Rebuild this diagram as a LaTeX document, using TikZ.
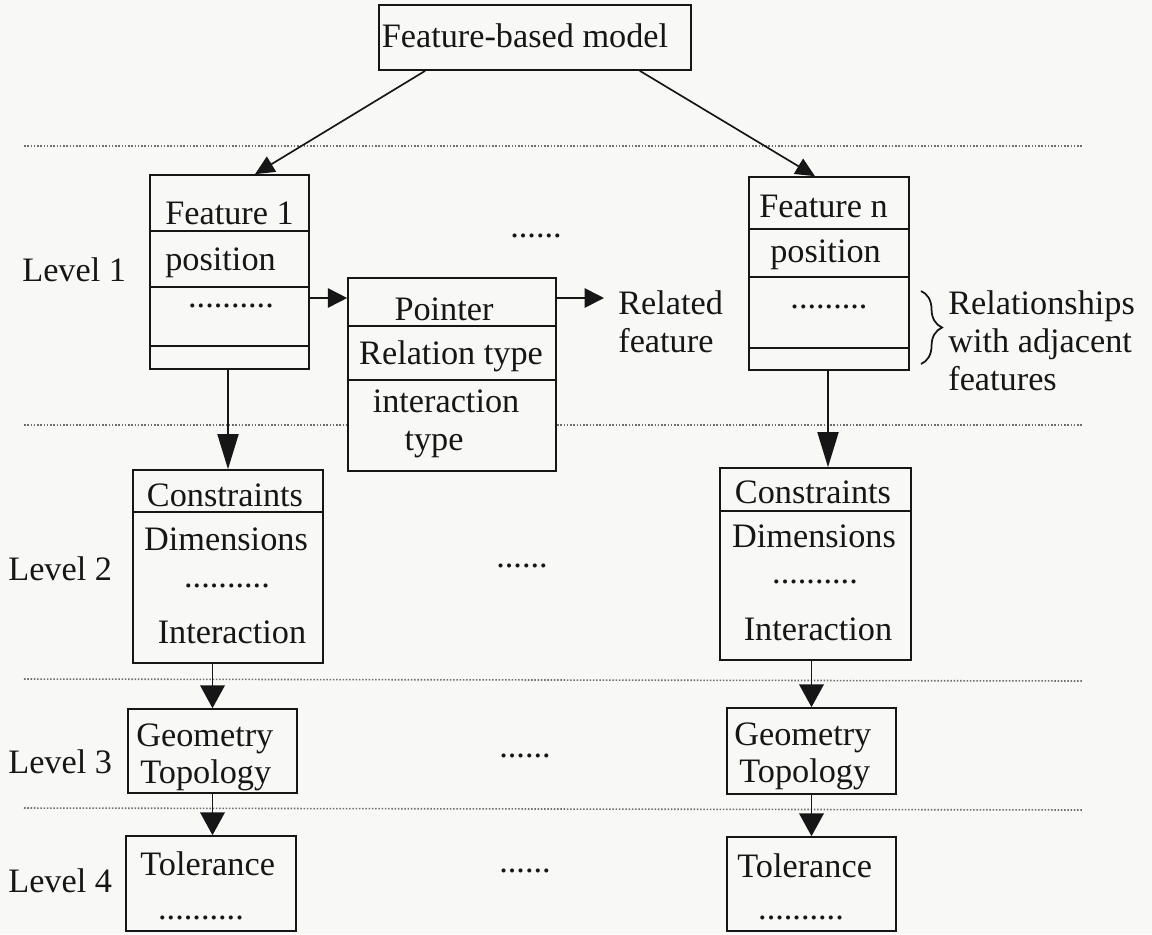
\documentclass[tikz,border=0pt]{standalone}
\usepackage{fontspec}
\setmainfont{Liberation Serif}
\usetikzlibrary{arrows.meta,decorations.pathreplacing}

\definecolor{paper}{RGB}{248,248,246}
\definecolor{ink}{RGB}{22,22,22}
\definecolor{sepgray}{RGB}{110,110,110}

\tikzset{
  txt/.style={font=\fontsize{19.5}{21.5}\selectfont, text=ink, inner sep=0pt},
  box/.style={draw=ink, line width=0.95pt, fill=paper, inner sep=0pt},
  divider/.style={draw=ink, line width=0.95pt},
  separator/.style={draw=sepgray, line width=0.9pt, dash pattern=on 0.9pt off 0.95pt},
  bigarr/.style={draw=ink, line width=0.95pt, -{Triangle[length=20pt,width=12pt]}},
  smallarr/.style={draw=ink, line width=0.95pt, -{Triangle[length=13pt,width=14pt]}},
  sidearr/.style={draw=ink, line width=0.95pt, -{Triangle[length=11pt,width=11pt]}},
  diagarr/.style={draw=ink, line width=0.95pt, -{Triangle[length=11pt,width=10pt]}},
  bracestyle/.style={draw=ink, line width=1pt, decorate, decoration={brace, amplitude=12pt}}
}

\begin{document}
\begin{tikzpicture}[x=0.02cm,y=-0.02cm]
\useasboundingbox (0,0) rectangle (1152,934);
\clip (0,0) rectangle (1152,934);
\fill[paper] (0,0) rectangle (1152,934);

% level separators
\draw[separator] (24,146) -- (1083,146);
\draw[separator] (24,425) -- (1083,425);
\draw[separator] (24,679) -- (1083,681);
\draw[separator] (24,808) -- (1083,810);

% root
\node[box, minimum width=6.24cm, minimum height=1.3cm] (root) at (535,37.5) {};
\node[txt, anchor=base] (roott) at (525,47) {Feature-based model};

% feature 1
\node[box, minimum width=3.18cm, minimum height=3.88cm] (f1) at (229.5,272) {};
\draw[divider] (f1.west |- 0,231) -- (f1.east |- 0,231);
\draw[divider] (f1.west |- 0,287) -- (f1.east |- 0,287);
\draw[divider] (f1.west |- 0,346) -- (f1.east |- 0,346);
\node[txt, anchor=base west] (f1a) at (165,224) {Feature 1};
\node[txt, anchor=base west] (f1b) at (165,270) {position};
\node[txt, anchor=base] (f1c) at (231,307) {..........};

% pointer record
\node[box, minimum width=4.16cm, minimum height=3.86cm] (ptr) at (452,374.5) {};
\draw[divider] (ptr.west |- 0,326) -- (ptr.east |- 0,326);
\draw[divider] (ptr.west |- 0,380) -- (ptr.east |- 0,380);
\node[txt, anchor=base] (ptra) at (444,320) {Pointer};
\node[txt, anchor=base] (ptrb) at (451,364) {Relation type};
\node[txt, anchor=base] (ptrc) at (446,412) {interaction};
\node[txt, anchor=base] (ptrd) at (434,450) {type};

% related feature (anchored on the baseline of its last line)
\node[txt, align=left, anchor=base west, inner xsep=0.28cm] (rel) at (604,352) {Related\\feature};

% feature n
\node[box, minimum width=3.2cm, minimum height=3.86cm] (fn) at (829,273.5) {};
\draw[divider] (fn.west |- 0,229) -- (fn.east |- 0,229);
\draw[divider] (fn.west |- 0,277) -- (fn.east |- 0,277);
\draw[divider] (fn.west |- 0,348) -- (fn.east |- 0,348);
\node[txt, anchor=base west] (fna) at (759,217) {Feature n};
\node[txt, anchor=base west] (fnb) at (770,262) {position};
\node[txt, anchor=base] (fnc) at (829,308) {.........};

% adjacency brace
\coordinate (bt) at (921,291);
\coordinate (bb) at (921,364);
\draw[bracestyle] (bt) -- (bb);
\node[txt, align=left, anchor=base west] (adj) at (948,390) {Relationships\\with adjacent\\features};

% level 2
\node[box, minimum width=3.8cm, minimum height=3.86cm] (c1) at (228,566.5) {};
\draw[divider] (c1.west |- 0,512) -- (c1.east |- 0,512);
\node[txt, anchor=base] (c1a) at (225,506) {Constraints};
\node[txt, anchor=base] (c1b) at (226,550) {Dimensions};
\node[txt, anchor=base] (c1c) at (227,587) {..........};
\node[txt, anchor=base] (c1d) at (232,643) {Interaction};

\node[box, minimum width=3.82cm, minimum height=3.84cm] (cn) at (815.5,564) {};
\draw[divider] (cn.west |- 0,511) -- (cn.east |- 0,511);
\node[txt, anchor=base] (cna) at (813,503) {Constraints};
\node[txt, anchor=base] (cnb) at (814,547) {Dimensions};
\node[txt, anchor=base] (cnc) at (815,583) {..........};
\node[txt, anchor=base] (cnd) at (818,640) {Interaction};

% level 3
\node[box, minimum width=3.38cm, minimum height=1.68cm] (g1) at (212.5,751) {};
\node[txt, anchor=base west] (g1a) at (136,746) {Geometry};
\node[txt, anchor=base west] (g1b) at (140,783) {Topology};

\node[box, minimum width=3.38cm, minimum height=1.72cm] (gn) at (811.5,751) {};
\node[txt, anchor=base west] (gna) at (734,745) {Geometry};
\node[txt, anchor=base west] (gnb) at (739,782) {Topology};

% level 4
\node[box, minimum width=3.4cm, minimum height=1.9cm] (t1) at (211,883.5) {};
\node[txt, anchor=base west] (t1a) at (140,875) {Tolerance};
\node[txt, anchor=base] (t1b) at (201,919) {..........};

\node[box, minimum width=3.38cm, minimum height=1.88cm] (tn) at (811.5,884) {};
\node[txt, anchor=base west] (tna) at (737,877) {Tolerance};
\node[txt, anchor=base] (tnb) at (801,919) {..........};

% level labels
\node[txt, anchor=base west] (lv1) at (22,281) {Level 1};
\node[txt, anchor=base west] (lv2) at (8,580) {Level 2};
\node[txt, anchor=base west] (lv3) at (8,773) {Level 3};
\node[txt, anchor=base west] (lv4) at (8,892) {Level 4};

% ellipses between the two columns
\node[txt, anchor=base] (e1) at (536,237) {......};
\node[txt, anchor=base] (e2) at (522,567) {......};
\node[txt, anchor=base] (e3) at (525,757) {......};
\node[txt, anchor=base] (e4) at (525,872) {......};

% connectors
\draw[diagarr] ([xshift=0.94cm]root.south west) -- ([xshift=0.51cm]f1.north);
\draw[diagarr] ([xshift=-1.04cm]root.south east) -- ([xshift=-0.28cm]fn.north);
\draw[sidearr] (f1.east |- 0,298) -- (ptr.west |- 0,298);
\draw[sidearr] (ptr.east |- 0,298) -- (rel.west |- 0,298);
\draw[bigarr] (f1.south -| 228,0) -- (c1.north -| 228,0);
\draw[bigarr] (fn.south -| 828,0) -- (cn.north -| 828,0);
\draw[smallarr] (g1.north |- c1.south) -- (g1.north);
\draw[smallarr] (gn.north |- cn.south) -- (gn.north);
\draw[smallarr] (g1.south) -- (g1.south |- t1.north);
\draw[smallarr] (gn.south) -- (gn.south |- tn.north);
\end{tikzpicture}
\end{document}
